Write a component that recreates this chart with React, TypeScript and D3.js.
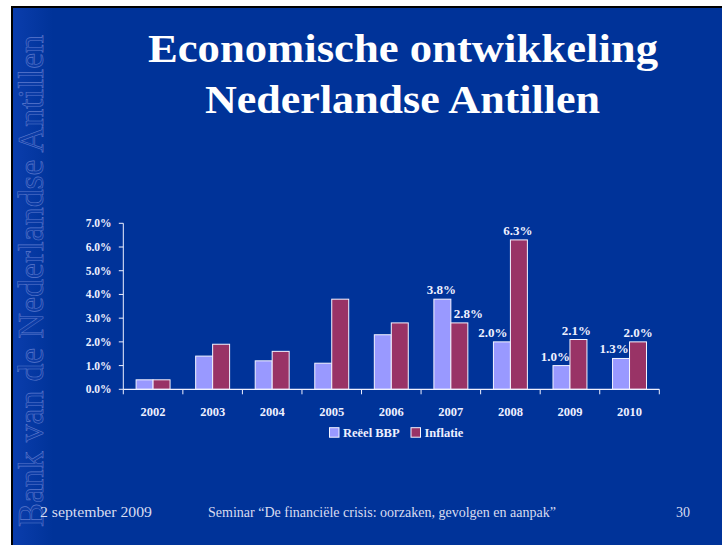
import React from "react";
import * as d3 from "d3";

const years = ["2002", "2003", "2004", "2005", "2006", "2007", "2008", "2009", "2010"];
const reeelBBP = [0.4, 1.4, 1.2, 1.1, 2.3, 3.8, 2.0, 1.0, 1.3];
const inflatie = [0.4, 1.9, 1.6, 3.8, 2.8, 2.8, 6.3, 2.1, 2.0];
const labelledYears = ["2007", "2008", "2009", "2010"];
const yTicks = [0, 1, 2, 3, 4, 5, 6, 7];
const seriesNames = ["Reëel BBP", "Inflatie"];
const seriesColors = ["#9999FF", "#993366"];

// label nudges (dx, dy) per series for the labelled years
const labelNudge: Record<string, [number, number][]> = {
  "2007": [[-1, 0], [9, 0]],
  "2008": [[-9, 0], [-1, 0]],
  "2009": [[-6, 0], [-2, 0]],
  "2010": [[-7, 0], [0, 0]],
};

const W = 722;
const H = 545;
const serif = "'Liberation Serif', 'Times New Roman', serif";
const txt = "#EEF0FF";

export default function App() {
  const x = d3.scaleBand<string>().domain(years).range([123.3, 659.3]).paddingInner(0.43).paddingOuter(0.215);
  const xs = d3.scaleBand<number>().domain([0, 1]).range([0, x.bandwidth()]);
  const y = d3.scaleLinear().domain([0, 7]).range([389.3, 223.3]);
  const step = x.step();
  const x0 = 123.3;
  const series = [reeelBBP, inflatie];

  return (
    <svg width={W} height={H} style={{ position: "absolute", left: 0, top: 0 }}>
      <defs>
        <linearGradient id="leftg" x1="0" x2="1" y1="0" y2="0">
          <stop offset="0" stopColor="#0A3DAC" />
          <stop offset="1" stopColor="#003399" />
        </linearGradient>
      </defs>
      <rect x={0} y={0} width={W} height={H} fill="#ffffff" />
      <rect x={11} y={6} width={W - 11} height={H - 6} fill="#000000" />
      <rect x={13} y={8} width={W - 13} height={H - 8} fill="#003399" />
      <rect x={13} y={8} width={40} height={H - 8} fill="url(#leftg)" />

      {/* vertical watermark */}
      <text
        transform="translate(43,527) rotate(-90)"
        fontFamily={serif}
        fontSize={35}
        fill="#0C3CA6"
        stroke="#5B78CC"
        strokeWidth={0.6}
        textLength={492}
        lengthAdjust="spacingAndGlyphs"
      >
        Bank van de Nederlandse Antillen
      </text>

      {/* title */}
      <text x={148} y={62} fontFamily={serif} fontWeight="bold" fontSize={39} fill="#ffffff" textLength={510} lengthAdjust="spacingAndGlyphs">
        Economische ontwikkeling
      </text>
      <text x={205} y={113} fontFamily={serif} fontWeight="bold" fontSize={39} fill="#ffffff" textLength={395} lengthAdjust="spacingAndGlyphs">
        Nederlandse Antillen
      </text>

      {/* y axis */}
      <line x1={x0} x2={x0} y1={y(7)} y2={y(0)} stroke={txt} strokeWidth={1} />
      {yTicks.map((t) => (
        <g key={t}>
          <line x1={x0 - 4.5} x2={x0} y1={y(t)} y2={y(t)} stroke={txt} strokeWidth={1} />
          <text x={111.5} y={y(t) + 4} textAnchor="end" fontFamily={serif} fontWeight="bold" fontSize={11.5} fill={txt}>
            {t.toFixed(1)}%
          </text>
        </g>
      ))}

      {/* bars */}
      {years.map((yr, i) => (
        <g key={yr}>
          {series.map((s, k) => (
            <rect
              key={k}
              x={(x(yr) as number) + (xs(k) as number)}
              y={y(s[i])}
              width={xs.bandwidth()}
              height={y(0) - y(s[i])}
              fill={seriesColors[k]}
              stroke="#F4F4FF"
              strokeWidth={1}
            />
          ))}
        </g>
      ))}

      {/* x axis */}
      <line x1={x0} x2={659.3} y1={y(0)} y2={y(0)} stroke={txt} strokeWidth={1.2} />
      {d3.range(years.length + 1).map((j) => (
        <line key={j} x1={x0 + j * step} x2={x0 + j * step} y1={y(0)} y2={y(0) + 5} stroke={txt} strokeWidth={1} />
      ))}
      {years.map((yr) => (
        <text
          key={yr}
          x={(x(yr) as number) + x.bandwidth() / 2}
          y={416}
          textAnchor="middle"
          fontFamily={serif}
          fontWeight="bold"
          fontSize={12.5}
          fill={txt}
        >
          {yr}
        </text>
      ))}

      {/* data labels */}
      {years.map((yr, i) =>
        labelledYears.includes(yr)
          ? series.map((s, k) => {
              const n = labelNudge[yr][k];
              return (
                <text
                  key={yr + k}
                  x={(x(yr) as number) + (xs(k) as number) + xs.bandwidth() / 2 + n[0]}
                  y={y(s[i]) - 5 + n[1]}
                  textAnchor="middle"
                  fontFamily={serif}
                  fontWeight="bold"
                  fontSize={13}
                  fill={txt}
                >
                  {s[i].toFixed(1)}%
                </text>
              );
            })
          : null
      )}

      {/* legend */}
      {seriesNames.map((name, k) => {
        const lx = k === 0 ? 329.5 : 411;
        return (
          <g key={name}>
            <rect x={lx} y={427.7} width={9.5} height={9.5} fill={seriesColors[k]} stroke="#F4F4FF" strokeWidth={1} />
            <text x={lx + 13.5} y={437} fontFamily={serif} fontWeight="bold" fontSize={12.5} fill={txt}>
              {name}
            </text>
          </g>
        );
      })}

      {/* footer */}
      <text x={40} y={517} fontFamily={serif} fontSize={14} fill="#D8DCF0" textLength={112} lengthAdjust="spacingAndGlyphs">
        2 september 2009
      </text>
      <text x={208} y={517} fontFamily={serif} fontSize={14} fill="#D8DCF0" textLength={348} lengthAdjust="spacingAndGlyphs">
        Seminar “De financiële crisis: oorzaken, gevolgen en aanpak”
      </text>
      <text x={676} y={517} fontFamily={serif} fontSize={14} fill="#D8DCF0">
        30
      </text>
    </svg>
  );
}
